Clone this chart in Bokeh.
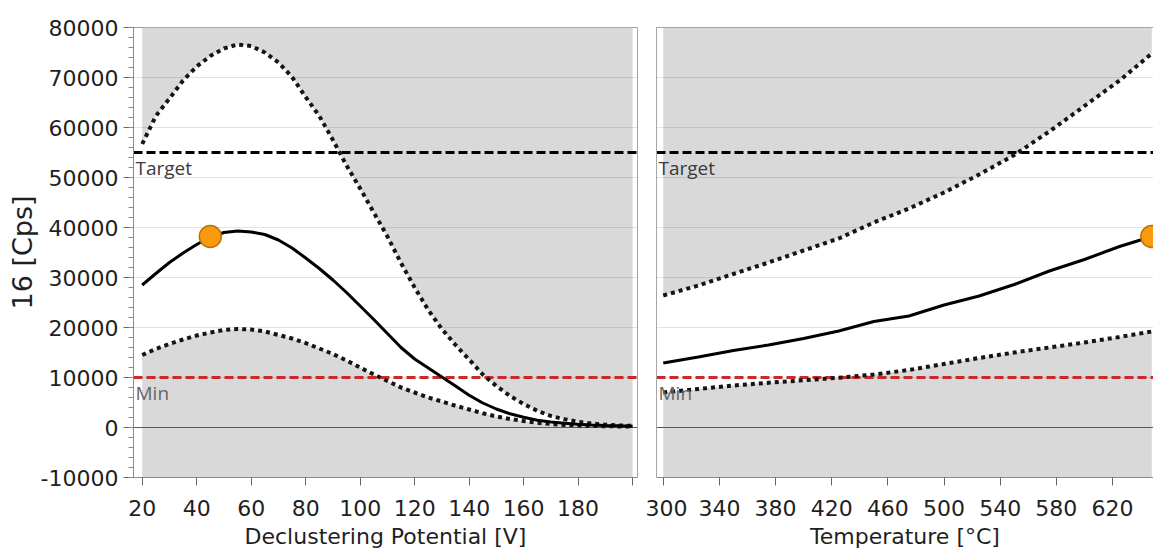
from bokeh.plotting import figure
from bokeh.layouts import row
from bokeh.models import FixedTicker, LinearAxis, Range1d
from bokeh.core.properties import value
from bokeh.embed import file_html
from bokeh.resources import INLINE

# ---------------- data ----------------
dp = [20, 25, 30, 35, 40, 45, 50, 55, 60, 65, 70, 75, 80, 85, 90, 95, 100, 105, 110,
      115, 120, 125, 130, 135, 140, 145, 150, 155, 160, 165, 170, 175, 180, 185, 190, 195, 200]
dp_mean = [28500, 30800, 33000, 34900, 36600, 38100, 39000, 39300, 39100, 38600, 37500, 35900,
           33900, 31800, 29500, 27000, 24300, 21600, 18800, 16000, 13700, 11900, 10100, 8300,
           6450, 4900, 3700, 2750, 2050, 1450, 1100, 850, 650, 520, 420, 340, 270]
dp_upper = [56700, 62300, 65800, 69400, 72200, 74300, 75800, 76600, 76300, 75000, 73000, 70100,
            66100, 62300, 57500, 52400, 47800, 43000, 38200, 32900, 28000, 23500, 19700, 16500,
            13600, 10600, 8300, 6300, 4700, 3350, 2300, 1650, 1150, 800, 550, 400, 320]
dp_lower = [14500, 15700, 16700, 17600, 18400, 19000, 19500, 19700, 19600, 19200, 18500, 17800,
            16900, 15800, 14700, 13400, 12000, 10600, 9300, 8000, 7000, 6000, 5200, 4350,
            3600, 2850, 2200, 1700, 1300, 950, 700, 520, 380, 300, 260, 220, 200]
dp_opt = [45]
dp_opt_cps = [38200]

temp = [300, 325, 350, 375, 400, 425, 450, 475, 500, 525, 550, 575, 600, 625, 648]
temp_mean = [12900, 14100, 15400, 16500, 17800, 19300, 21200, 22300, 24500, 26300, 28600,
             31300, 33600, 36200, 38200]
temp_upper = [26400, 28400, 30700, 33000, 35400, 37800, 41000, 43800, 47000, 50600, 54500,
              59200, 64300, 69400, 74800]
temp_lower = [7000, 7700, 8400, 8950, 9450, 9950, 10600, 11500, 12700, 13900, 15000, 16000,
              17000, 18100, 19200]
temp_opt = [648]
temp_opt_cps = [38200]

TARGET = 55000
MIN_LEVEL = 10000
Y_TICKS = [-10000, 0, 10000, 20000, 30000, 40000, 50000, 60000, 70000, 80000]
Y_TICK_LABELS = ["-10000", "0", "10000", "20000", "30000", "40000", "50000", "60000", "70000", "80000"]
Y_MINOR = list(range(-10000, 80001, 2000))
DP_TICKS = [20, 40, 60, 80, 100, 120, 140, 160, 180, 200]
DP_TICK_LABELS = ["20", "40", "60", "80", "100", "120", "140", "160", "180", ""]
TEMP_TICKS = [300, 340, 380, 420, 460, 500, 540, 580, 620]
TEMP_TICK_LABELS = ["300", "340", "380", "420", "460", "500", "540", "580", "620"]

# ---------------- style ----------------
Y_MIN, Y_MAX = -10000, 80000
GRAY = "#d9d9d9"
TXT = "#1f1f1f"
AX_FONT = "DejaVu Sans"
H = 551


def panel(x, mean, upper, lower, ox, oy, xr, xlabel, ticks, labels, width, bl, br, first):
    p = figure(width=width, height=H, x_range=Range1d(*xr), y_range=Range1d(Y_MIN, Y_MAX),
               output_backend="svg", toolbar_location=None,
               min_border_left=bl, min_border_right=br, min_border_top=27, min_border_bottom=0,
               background_fill_color="white", border_fill_color="white",
               x_axis_label=xlabel, y_axis_label=("16 [Cps]" if first else None))
    p.xgrid.visible = False
    p.ygrid.visible = False

    n = len(x)
    # gray regions outside the uncertainty band
    p.varea(x=x, y1=upper, y2=[Y_MAX] * n, fill_color=GRAY)
    p.varea(x=x, y1=[Y_MIN] * n, y2=lower, fill_color=GRAY)

    # grid lines
    p.hspan(y=[t for t in Y_TICKS if t != 0], line_color="black", line_alpha=0.11, line_width=1)
    p.hspan(y=[0], line_color="#5a5a5a", line_width=1)

    # target and min lines
    p.hspan(y=[TARGET], line_color="black", line_width=3, line_dash="9 4")
    p.hspan(y=[MIN_LEVEL], line_color="#cc2a2a", line_width=3, line_dash="9 4")

    # curves
    p.line(x, upper, line_color="#151515", line_width=4, line_dash="4 4")
    p.line(x, lower, line_color="#151515", line_width=4, line_dash="4 4")
    p.line(x, mean, line_color="black", line_width=3)
    p.scatter(ox, oy, size=22, fill_color="#FA9B0F", line_color="#B8730A", line_width=1.5)

    p.text(x=[xr[0]], y=[TARGET], text=["Target"], text_font=value("Open Sans"),
           text_font_size="19px", text_color="#3a3a3a", text_baseline="top",
           x_offset=2, y_offset=2)
    p.text(x=[xr[0]], y=[MIN_LEVEL], text=["Min"], text_font=value("Open Sans"),
           text_font_size="19px", text_color="#666666", text_baseline="top",
           x_offset=2, y_offset=2)

    # x axis
    xa = p.xaxis[0]
    xa.ticker = FixedTicker(ticks=ticks, minor_ticks=[])
    xa.major_label_overrides = {t: l for t, l in zip(ticks, labels)}
    xa.major_tick_out = 8
    xa.major_tick_in = 0
    xa.major_label_standoff = 14
    xa.axis_line_color = "#8a8a8a"
    xa.major_tick_line_color = "#666666"
    xa.major_label_text_font = AX_FONT
    xa.major_label_text_font_size = "22px"
    xa.major_label_text_color = TXT
    xa.axis_label_text_font = AX_FONT
    xa.axis_label_text_font_size = "22px"
    xa.axis_label_text_font_style = "normal"
    xa.axis_label_text_color = TXT
    xa.axis_label_standoff = 5

    ya = p.yaxis[0]
    if first:
        ya.ticker = FixedTicker(ticks=Y_TICKS, minor_ticks=Y_MINOR)
        ya.major_label_overrides = {t: l for t, l in zip(Y_TICKS, Y_TICK_LABELS)}
        ya.major_tick_out = 10
        ya.major_tick_in = 0
        ya.minor_tick_out = 5
        ya.minor_tick_in = 0
        ya.axis_line_color = "#8a8a8a"
        ya.major_tick_line_color = "#666666"
        ya.minor_tick_line_color = "#8a8a8a"
        ya.major_label_text_font = AX_FONT
        ya.major_label_text_font_size = "22px"
        ya.major_label_text_color = TXT
        ya.axis_label_text_font = AX_FONT
        ya.axis_label_text_font_size = "27px"
        ya.axis_label_text_font_style = "normal"
        ya.axis_label_text_color = TXT
        ya.axis_label_standoff = 0
        p.outline_line_color = "#a6a6a6"
    else:
        ya.ticker = FixedTicker(ticks=[], minor_ticks=[])
        ya.major_tick_out = 0
        ya.minor_tick_out = 0
        ya.major_tick_in = 0
        ya.minor_tick_in = 0
        ya.axis_line_color = "#a6a6a6"
        top = LinearAxis(ticker=FixedTicker(ticks=[], minor_ticks=[]), axis_line_color="#a6a6a6",
                         major_tick_out=0, minor_tick_out=0, major_tick_in=0, minor_tick_in=0)
        p.add_layout(top, "above")
        p.outline_line_color = None
    return p


p1 = panel(dp, dp_mean, dp_upper, dp_lower, dp_opt, dp_opt_cps, (16.8, 201.8),
           "Declustering Potential [V]", DP_TICKS, DP_TICK_LABELS, 645, 133, 8, True)
p2 = panel(temp, temp_mean, temp_upper, temp_lower, temp_opt, temp_opt_cps, (295.2, 649.2),
           "Temperature [°C]", TEMP_TICKS, TEMP_TICK_LABELS, 508, 11, 0, False)

layout = row(p1, p2)
open("out.html", "w").write(file_html(layout, INLINE))
